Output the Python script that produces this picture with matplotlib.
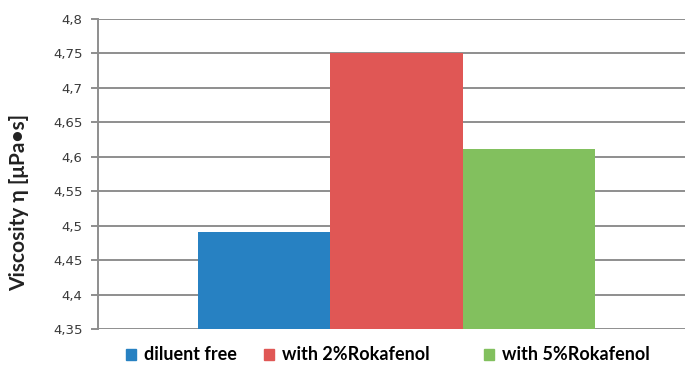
import numpy as np
import matplotlib
matplotlib.use("Agg")
import matplotlib.pyplot as plt
from matplotlib.patches import Patch
from matplotlib.ticker import FuncFormatter

# data
labels = ["diluent free", "with 2%Rokafenol", "with 5%Rokafenol"]
viscosity = [4.491, 4.750, 4.612]
colors = ["#2781c2", "#e05755", "#82c05e"]
yticks = [4.35, 4.4, 4.45, 4.5, 4.55, 4.6, 4.65, 4.7, 4.75, 4.8]

base = 4.35
grid_color = "#8e8e8e"
W, H = 685, 367

fig = plt.figure(figsize=(W / 100, H / 100), dpi=100)
ax = fig.add_axes([98 / W, 1 - 329 / H, 1 - 98 / W, (329 - 19) / H])

pos = np.arange(len(viscosity))
heights = [v - base for v in viscosity]
ax.bar(pos, heights, bottom=base, width=1.0, color=colors, zorder=3)

ax.set_ylim(4.35, 4.8)
ax.set_xlim(-0.5 - 100 / 132, 2.5 + 90 / 132)
ax.set_yticks(yticks)
ax.yaxis.set_major_formatter(FuncFormatter(lambda v, p: f"{v:g}".replace(".", ",")))
ax.set_xticks([])

ax.grid(axis="y", color=grid_color, linewidth=1.4, zorder=0)
for s in ["top", "right", "bottom"]:
    ax.spines[s].set_visible(False)
ax.spines["left"].set_color(grid_color)
ax.spines["left"].set_linewidth(1.4)
ax.tick_params(axis="y", length=5, width=1.4, color=grid_color,
               labelsize=9.5, labelcolor="#3a3a3a", pad=6)

ax.set_ylabel("Viscosity η [μPa•s]", fontsize=15, fontweight="bold",
              family=["Lato", "DejaVu Sans"], color="#222222")
ax.yaxis.set_label_coords((29 - 98) / (W - 98), (329 - 202) / 310)

# legend entries placed one by one, as in the original
legend_x = [126, 264, 484]
for lab, col, lx in zip(labels, colors, legend_x):
    fig.legend(handles=[Patch(color=col)], labels=[lab], loc="center left",
               bbox_to_anchor=(lx / W, 1 - 355 / H), frameon=False,
               handlelength=0.55, handleheight=0.55, handletextpad=0.45,
               borderaxespad=0, borderpad=0,
               prop={"family": ["Lato", "DejaVu Sans"], "weight": "bold", "size": 13})

fig.savefig("out.png", dpi=100)
